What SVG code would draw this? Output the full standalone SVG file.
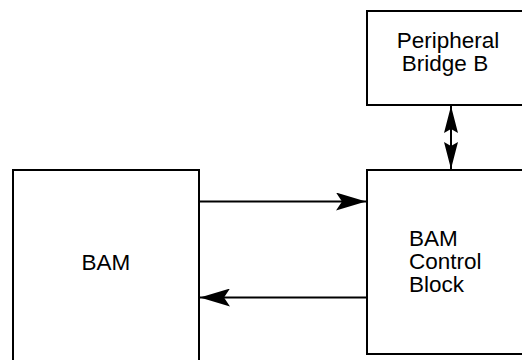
<svg xmlns="http://www.w3.org/2000/svg" width="522" height="360" viewBox="0 0 522 360">
<style>
.box{fill:#fff;stroke:#000;stroke-width:2}
.lbl{font-family:"Liberation Sans",Arial,Helvetica,sans-serif;font-size:22.5px;fill:#000}
.con{stroke:#000;stroke-width:2;fill:none}
</style>
<defs>
<marker id="ah" markerUnits="userSpaceOnUse" viewBox="0 0 30 18" refX="30" refY="9" markerWidth="30" markerHeight="18" orient="auto-start-reverse">
<path d="M30,9 L0,0 L6,9 L0,18 Z" fill="#000"/>
</marker>
<marker id="ahs" markerUnits="userSpaceOnUse" viewBox="0 0 27 14" refX="27" refY="7" markerWidth="27" markerHeight="14" orient="auto-start-reverse">
<path d="M27,7 L0,0 L4,7 L0,14 Z" fill="#000"/>
</marker>
</defs>
<rect width="522" height="360" fill="#fff"/>
<g id="bam">
<rect class="box" x="13" y="170" width="186" height="200"/>
<text class="lbl" x="106" y="270" text-anchor="middle">BAM</text>
</g>
<g id="bam-control-block">
<rect class="box" x="367" y="170" width="170" height="184"/>
<text class="lbl" x="409" y="246">BAM</text>
<text class="lbl" x="409" y="269">Control</text>
<text class="lbl" x="409" y="292">Block</text>
</g>
<g id="peripheral-bridge-b">
<rect class="box" x="367" y="11" width="170" height="94"/>
<text class="lbl" x="448" y="48" text-anchor="middle">Peripheral</text>
<text class="lbl" x="445" y="71" text-anchor="middle">Bridge B</text>
</g>
<g id="connectors">
<line class="con" x1="199" y1="201.5" x2="366" y2="201.5" marker-end="url(#ah)"/>
<line class="con" x1="366" y1="297.5" x2="200" y2="297.5" marker-end="url(#ah)"/>
<line class="con" x1="451" y1="106" x2="451" y2="169" marker-start="url(#ahs)" marker-end="url(#ahs)"/>
</g>
</svg>
